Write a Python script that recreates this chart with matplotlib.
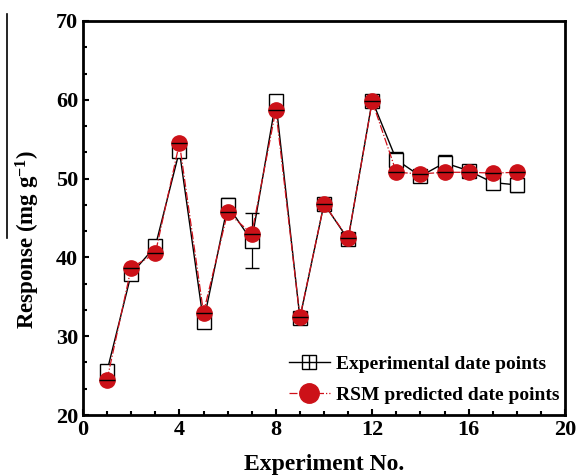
import matplotlib
matplotlib.use('Agg')
from matplotlib import pyplot as plt
from matplotlib.ticker import MultipleLocator, AutoMinorLocator
from matplotlib.legend_handler import HandlerTuple
from matplotlib.lines import Line2D

plt.rcParams['font.family'] = ['Liberation Serif', 'DejaVu Serif']
plt.rcParams['font.weight'] = 'bold'
plt.rcParams['mathtext.fontset'] = 'custom'
plt.rcParams['mathtext.rm'] = 'Liberation Serif:bold'
plt.rcParams['mathtext.default'] = 'rm'

# experiment number
runs = list(range(1, 19))
# experimental responses (mg g-1) and their error bars
experimental = [25.6, 37.9, 41.4, 53.5, 31.8, 46.6, 42.1, 59.8, 32.3,
                46.8, 42.3, 59.9, 52.4, 50.3, 52.0, 51.0, 49.5, 49.2]
exp_err = [0.6, 0.6, 0.6, 0.6, 0.5, 1.0, 3.5, 0.6, 0.5,
           0.5, 0.5, 0.7, 1.0, 0.5, 1.0, 0.5, 0.7, 0.9]
# RSM model predictions
predicted = [24.5, 38.7, 40.5, 54.5, 33.0, 45.7, 43.0, 58.7, 32.4,
             46.8, 42.4, 59.8, 50.8, 50.6, 50.8, 50.8, 50.7, 50.8]

fig = plt.figure(figsize=(5.78, 4.75), dpi=100)
ax = fig.add_axes([0.1436, 0.1263, 0.834, 0.8295])

ax.errorbar(runs, experimental, yerr=exp_err, color='black', lw=1.0,
            ecolor='black', elinewidth=0.9, capsize=5, capthick=0.9,
            marker='s', ms=9.5, mfc='white', mec='black', mew=1.0, zorder=2)
ax.plot(runs, experimental, ls='none', marker='+', ms=9.5, mew=1.0,
        color='black', zorder=2)
ax.plot(runs, predicted, color='#d0101a', lw=0.9, ls='-.', marker='o',
        ms=11, mfc='#cc1118', mec='#cc1118', zorder=3)
ax.plot(runs, predicted, ls='none', marker='_', ms=11, mew=1.0,
        color='black', zorder=4)

ax.set_xlim(0, 20)
ax.set_ylim(20, 70)
ax.xaxis.set_major_locator(MultipleLocator(4))
ax.xaxis.set_minor_locator(MultipleLocator(1))
ax.yaxis.set_major_locator(MultipleLocator(10))
ax.yaxis.set_minor_locator(AutoMinorLocator(3))
ax.tick_params(which='both', direction='in', width=1.5, labelsize=16)
ax.tick_params(which='major', length=4)
ax.tick_params(which='minor', length=3)
for s in ax.spines.values():
    s.set_linewidth(2)

ax.set_xlabel('Experiment No.', fontsize=17, fontweight='bold', labelpad=10)
ax.set_ylabel('Response (mg g$^{-1}$)', fontsize=16.5, fontweight='bold',
              va='center')
ax.yaxis.set_label_coords(-0.115, 0.445)

h_exp = (Line2D([], [], color='black', lw=1.0, marker='s', ms=9.5,
                mfc='white', mec='black'),
         Line2D([], [], ls='none', marker='+', ms=9.5, color='black'))
h_rsm = Line2D([], [], color='#d0101a', lw=0.9, ls='-.', marker='o', ms=14,
               mfc='#cc1118', mec='#cc1118')
ax.legend([h_exp, h_rsm],
          ['Experimental date points', 'RSM predicted date points'],
          handler_map={tuple: HandlerTuple(ndivide=1)},
          loc='lower right', bbox_to_anchor=(1.0, 0.013),
          frameon=False, fontsize=14, handlelength=2.1,
          borderaxespad=0.0, borderpad=0.3, labelspacing=0.7,
          handletextpad=0.3)

# stray vertical rule at the left edge of the source image
fig.add_artist(Line2D([0.012, 0.012], [0.5, 0.97], color='black', lw=1.2))

fig.savefig('out.png', dpi=100)
